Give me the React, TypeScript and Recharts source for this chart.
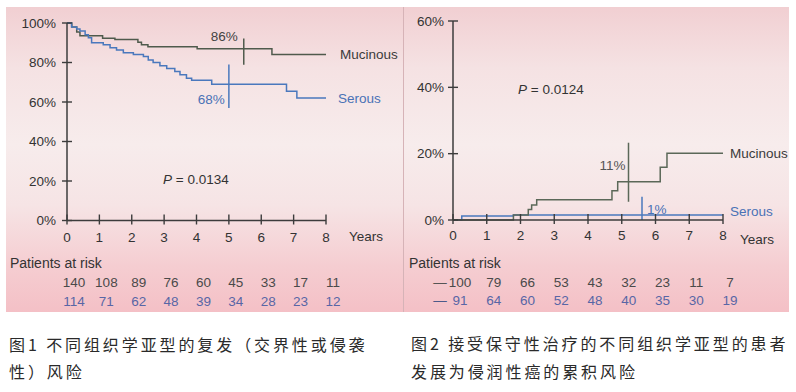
import { LineChart, Line, XAxis, YAxis, ReferenceLine, ReferenceDot } from 'recharts';

const years = [0, 1, 2, 3, 4, 5, 6, 7, 8];

// Fig 1 – recurrence-free (%)
const recMucT = [0, 0.15, 0.3, 0.4, 1.1, 1.48, 2.19, 2.3, 2.5, 4.02, 6.33, 8];
const recMucV = [100, 98, 95.5, 93.5, 92.3, 91.7, 90.2, 89, 88, 87, 84, 84];
const recSerT = [0, 0.14, 0.3, 0.4, 0.56, 0.66, 0.76, 1.12, 1.33, 1.53, 1.74, 2.05, 2.36, 2.51, 2.66, 2.87, 3.08, 3.33, 3.49, 3.69, 3.85, 4.47, 6.78, 7.1, 8];
const recSerV = [100, 98, 97, 96, 94, 92.5, 90, 89, 87.5, 86.3, 85, 84, 83, 81.3, 80, 78.4, 77, 75.5, 73.8, 72, 71, 69, 65.5, 62, 62];
const riskRecMuc = [140, 108, 89, 76, 60, 45, 33, 17, 11];
const riskRecSer = [114, 71, 62, 48, 39, 34, 28, 23, 12];

// Fig 2 – cumulative invasive (%)
const invMucT = [0, 1.79, 2.23, 2.33, 2.48, 4.71, 4.88, 6.14, 6.34, 8];
const invMucV = [0, 1.5, 3.2, 4.5, 6.1, 8.8, 11.5, 15.9, 20.1, 20.1];
const invSerT = [0, 0.26, 1.79, 8];
const invSerV = [0, 1.2, 1.5, 1.5];
const riskInvMuc = [100, 79, 66, 53, 43, 32, 23, 11, 7];
const riskInvSer = [91, 64, 60, 52, 48, 40, 35, 30, 19];

const zip = (t: number[], v: number[]) => t.map((x, i) => ({ t: x, v: v[i] }));

const AXIS = '#3c3c3c';
const TXT = '#333';
const MUC = '#4f5a4c';
const MUC2 = '#5b6858';
const SER = '#4a78bd';
const SER_TXT = '#4a72b6';
const RISK_SER = '#5866a6';
const FONT = '"Liberation Sans", Arial, sans-serif';

function YearTick(props: any) {
  const { x, y, payload, rows, labelDy, rowDy, dash } = props;
  const i = payload.value;
  return (
    <g>
      <line x1={x} x2={x} y1={y - 6} y2={y + 4} stroke={AXIS} strokeWidth={1.4} />
      <text x={x} y={y + labelDy} dy="0.35em" textAnchor="middle" fill={TXT} fontSize={13.5}>{i}</text>
      {rows.map((r: any, k: number) => (
        <text key={k} x={x + 7} y={y + rowDy[k]} dy="0.35em" textAnchor="middle" fill={r.color} fontSize={13.5}>
          {r.values[i]}
        </text>
      ))}
      {dash && i === 0 && rows.map((r: any, k: number) => (
        <text key={'d' + k} x={x - 13} y={y + rowDy[k]} dy="0.35em" textAnchor="middle" fill={r.dash} fontSize={13.5}>—</text>
      ))}
    </g>
  );
}

function PctTick(props: any) {
  const { x, y, payload, gap } = props;
  return (
    <g>
      <line x1={x - 5} x2={x + 5} y1={y} y2={y} stroke={AXIS} strokeWidth={1.4} />
      <text x={x - gap} y={y} dy="0.35em" textAnchor="end" fill={TXT} fontSize={13.5}>{payload.value}%</text>
    </g>
  );
}

const lbl = (value: string, position: string, offset: number, fill: string) => ({
  value, position, offset, fill, fontSize: 13.5, fontFamily: FONT,
});

const abs = (left: number, top: number, extra: any = {}) => ({
  position: 'absolute' as const, left, top, lineHeight: '16px', fontSize: 13.5, fontFamily: FONT, color: TXT, whiteSpace: 'nowrap' as const, ...extra,
});

const panelBg = 'linear-gradient(to bottom, #f1cfd2 0%, #f5e2e3 20%, #f7ecec 45%, #f6e4e5 65%, #f5cdd1 85%, #f4c0c6 100%)';

export default function App() {
  const recMuc = zip(recMucT, recMucV);
  const recSer = zip(recSerT, recSerV);
  const invMuc = zip(invMucT, invMucV);
  const invSer = zip(invSerT, invSerV);

  return (
    <div style={{ position: 'absolute', left: 0, top: 0, width: 796, height: 392, background: '#fff', overflow: 'hidden' }}>
      <div style={{ position: 'absolute', left: 6, top: 7, width: 397, height: 305, background: panelBg }} />
      <div style={{ position: 'absolute', left: 403, top: 7, width: 385, height: 305, background: panelBg, borderLeft: '1px solid #d6b3b7' }} />

      {/* Figure 1 */}
      <div style={{ position: 'absolute', left: 0, top: 0 }}>
        <LineChart width={403} height={312} margin={{ top: 23, right: 77, bottom: 61.5, left: 7 }} style={{ fontFamily: FONT }}>
          <XAxis
            dataKey="t" type="number" domain={[0, 8]} ticks={years} interval={0}
            axisLine={{ stroke: AXIS, strokeWidth: 1.5 }} tickLine={false} tickSize={0} tickMargin={0}
            tick={(p: any) => (
              <YearTick {...p} labelDy={16.5} rowDy={[61.5, 80.5]}
                rows={[{ values: riskRecMuc, color: '#4a4a4a' }, { values: riskRecSer, color: RISK_SER }]} />
            )}
          />
          <YAxis
            type="number" domain={[0, 100]} ticks={[0, 20, 40, 60, 80, 100]} width={60}
            axisLine={{ stroke: AXIS, strokeWidth: 1.5 }} tickLine={false} tickSize={0} tickMargin={0}
            tick={(p: any) => <PctTick {...p} gap={11} />}
          />
          <Line data={recMuc} dataKey="v" type="stepAfter" stroke={MUC} strokeWidth={1.5} dot={false} isAnimationActive={false} />
          <Line data={recSer} dataKey="v" type="stepAfter" stroke={SER} strokeWidth={1.5} dot={false} isAnimationActive={false} />
          <ReferenceLine segment={[{ x: 5.46, y: 92.2 }, { x: 5.46, y: 78.8 }]} stroke={MUC} strokeWidth={1.5} />
          <ReferenceLine segment={[{ x: 5.0, y: 79 }, { x: 5.0, y: 57 }]} stroke={SER} strokeWidth={1.5} />
          <ReferenceDot x={5.46} y={93.4} r={0} fill="none" stroke="none" label={lbl('86%', 'left', 6, '#444')} />
          <ReferenceDot x={5.0} y={61.3} r={0} fill="none" stroke="none" label={lbl('68%', 'left', 4, SER_TXT)} />
          <ReferenceDot x={8} y={recMucV[recMucV.length - 1]} r={0} fill="none" stroke="none" label={lbl('Mucinous', 'right', 14, '#3b3b3b')} />
          <ReferenceDot x={8} y={recSerV[recSerV.length - 1]} r={0} fill="none" stroke="none" label={lbl('Serous', 'right', 12, SER_TXT)} />
        </LineChart>
      </div>
      <div style={abs(349, 229)}>Years</div>
      <div style={abs(10, 255, { fontSize: 14 })}>Patients at risk</div>
      <div style={abs(163, 172)}><i>P</i> = 0.0134</div>

      {/* Figure 2 */}
      <div style={{ position: 'absolute', left: 404, top: 0 }}>
        <LineChart width={392} height={312} margin={{ top: 21, right: 73, bottom: 62, left: 9 }} style={{ fontFamily: FONT }}>
          <XAxis
            dataKey="t" type="number" domain={[0, 8]} ticks={years} interval={0}
            axisLine={{ stroke: AXIS, strokeWidth: 1.5 }} tickLine={false} tickSize={0} tickMargin={0}
            tick={(p: any) => (
              <YearTick {...p} labelDy={15} rowDy={[62, 80]} dash
                rows={[{ values: riskInvMuc, color: '#4a4a4a', dash: '#555' }, { values: riskInvSer, color: RISK_SER, dash: '#4b5a8a' }]} />
            )}
          />
          <YAxis
            type="number" domain={[0, 60]} ticks={[0, 20, 40, 60]} width={40}
            axisLine={{ stroke: AXIS, strokeWidth: 1.5 }} tickLine={false} tickSize={0} tickMargin={0}
            tick={(p: any) => <PctTick {...p} gap={9} />}
          />
          <Line data={invSer} dataKey="v" type="stepAfter" stroke={SER} strokeWidth={1.5} dot={false} isAnimationActive={false} />
          <Line data={invMuc} dataKey="v" type="stepAfter" stroke={MUC2} strokeWidth={1.5} dot={false} isAnimationActive={false} />
          <ReferenceLine segment={[{ x: 5.2, y: 23.3 }, { x: 5.2, y: 5.5 }]} stroke={MUC2} strokeWidth={1.5} />
          <ReferenceLine segment={[{ x: 5.6, y: 7 }, { x: 5.6, y: 0 }]} stroke={SER} strokeWidth={1.5} />
          <ReferenceDot x={5.2} y={16.4} r={0} fill="none" stroke="none" label={lbl('11%', 'left', 3, '#555')} />
          <ReferenceDot x={5.6} y={3.3} r={0} fill="none" stroke="none" label={lbl('1%', 'right', 5, SER_TXT)} />
          <ReferenceDot x={8} y={invMucV[invMucV.length - 1]} r={0} fill="none" stroke="none" label={lbl('Mucinous', 'right', 7, '#3b3b3b')} />
          <ReferenceDot x={8} y={2.7} r={0} fill="none" stroke="none" label={lbl('Serous', 'right', 7, SER_TXT)} />
        </LineChart>
      </div>
      <div style={abs(740, 232)}>Years</div>
      <div style={abs(409, 255, { fontSize: 14 })}>Patients at risk</div>
      <div style={abs(518, 82)}><i>P</i> = 0.0124</div>

      {/* captions */}
      <div style={abs(9, 331, { fontFamily: '"Noto Sans CJK SC", sans-serif', fontSize: 16, lineHeight: '27px', letterSpacing: 2.9, color: '#2a2a2a' })}>
        图1 不同组织学亚型的复发（交界性或侵袭<br />性）风险
      </div>
      <div style={abs(411, 329, { fontFamily: '"Noto Sans CJK SC", sans-serif', fontSize: 16, lineHeight: '28px', letterSpacing: 2.9, color: '#2a2a2a' })}>
        图2 接受保守性治疗的不同组织学亚型的患者<br />发展为侵润性癌的累积风险
      </div>
    </div>
  );
}
